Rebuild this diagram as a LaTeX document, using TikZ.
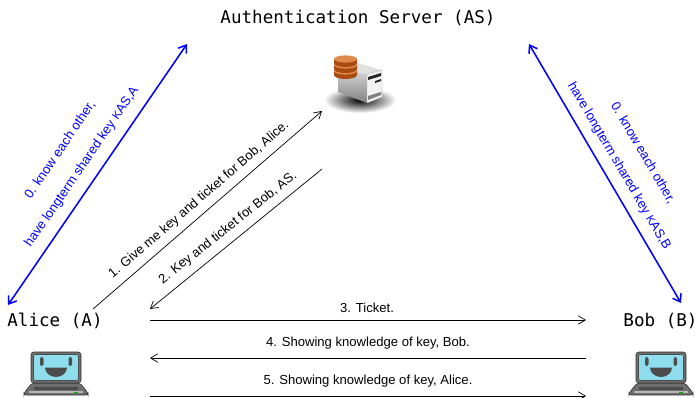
\documentclass[tikz,border=0pt]{standalone}
\usepackage{fontspec}
\setmainfont{Liberation Sans}
\setmonofont{DejaVu Sans Mono}
\usetikzlibrary{arrows.meta}
\definecolor{screenblue}{HTML}{8EDDEC}
\definecolor{laptopgrey}{HTML}{6E6E6E}
\definecolor{diskdark}{HTML}{A84A12}
\definecolor{disklight}{HTML}{E08A4A}
\tikzset{
  party/.style={font=\fontsize{12.5}{14}\selectfont\ttfamily},
  msg/.style={font=\fontsize{9.3}{11}\selectfont,inner sep=0pt},
  keylabel/.style={font=\fontsize{9.3}{11}\selectfont,text=blue,inner sep=0pt},
  msgline/.style={-{Straight Barb[length=5pt,width=6pt]},line width=0.5pt},
  keyline/.style={{Straight Barb[length=5pt,width=7pt]}-{Straight Barb[length=5pt,width=7pt]},blue,line width=1.1pt},
  laptop/.pic={
    \fill[laptopgrey,draw=black!80,line width=0.4pt,rounded corners=1.5] (-32,31) -- (-24,21) -- (24,21) -- (32,31) -- (32,33) -- (-32,33) -- cycle;
    \fill[black!70] (-22,25) rectangle (22,28);
    \fill[laptopgrey!50] (-27,28.5) rectangle (27,31);
    \fill[green!70!black] (18,30) rectangle (22,31);
    \fill[laptopgrey,draw=black!80,line width=0.4pt,rounded corners=2] (-25,-10) rectangle (25,21);
    \fill[screenblue,draw=black!70,line width=0.4pt,rounded corners=1.5] (-22.5,-7.5) rectangle (22.5,18.5);
    \fill[black!70,rounded corners=1.5] (-16,-5) rectangle (-12.5,4);
    \fill[black!70,rounded corners=1.5] (12.5,-5) rectangle (16,4);
    \fill[black!70] (-11,5.5) -- (11,5.5) arc[start angle=0,end angle=180,x radius=11,y radius=9.5] -- cycle;
  }
}
\begin{document}
\begin{tikzpicture}[x=0.025cm,y=-0.025cm]
\useasboundingbox (0,0) rectangle (697,397);

\node[party] (as) at (358,17.5) {Authentication Server (AS)};
\node[party] (alice) at (55,320.5) {Alice (A)};
\node[party] (bob) at (660.5,320.5) {Bob (B)};

\shade[inner color=black,outer color=white] (360,100) ellipse (36 and 13);
\shade[top color=black!8,bottom color=black!50] (338,75) -- (357,63) -- (381,70) -- (367,73) -- (367,103) -- (338,92) -- cycle;
\fill[black!12] (357,63) -- (381,70) -- (367,74) -- (345,70) -- cycle;
\fill[black!5,draw=black!35,line width=0.2pt] (367,74) -- (382,70) -- (382,97) -- (367,103) -- cycle;
\fill[black!85] (368,77) -- (381,73) -- (381,76) -- (368,80) -- cycle;
\fill[black!85] (375,81) -- (381,79) -- (381,81) -- (375,83) -- cycle;
\fill[black!50] (368,96) -- (381,92) -- (381,95) -- (368,100) -- cycle;
\foreach \y in {72,66,60} {
  \fill[diskdark] (334,\y-1) -- (334,\y+3) arc[start angle=180,end angle=0,x radius=11.5,y radius=4] -- (357,\y-1) -- cycle;
  \fill[disklight] (345.5,\y-1) ellipse (11.5 and 3.6);
}

\pic at (56,362) {laptop};
\pic at (661,362) {laptop};

\coordinate (a1) at (93,309);
\coordinate (s1) at (322,111);
\coordinate (s2) at (322,169);
\coordinate (a2) at (150,309);
\coordinate (a3) at (150,320);
\coordinate (b3) at (586,320);
\coordinate (b4) at (586,358);
\coordinate (a4) at (150,358);
\coordinate (a5) at (150,396);
\coordinate (b5) at (586,396);
\coordinate (ka) at (8,305);
\coordinate (ks) at (187,44);
\coordinate (kt) at (529,44);
\coordinate (kb) at (681,303);

\draw[msgline] (a1) -- (s1);
\draw[msgline] (s2) -- (a2);
\draw[msgline] (a3) -- (b3);
\draw[msgline] (b4) -- (a4);
\draw[msgline] (a5) -- (b5);
\draw[keyline] (ka) -- (ks);
\draw[keyline] (kt) -- (kb);

\node[msg,rotate=40.8] (m1) at (199,200) {1. Give me key and ticket for Bob, Alice.};
\node[msg,rotate=38.5] (m2) at (228,228) {2. Key and ticket for Bob, AS.};
\node[msg] (m3) at (367,307.5) {3. Ticket.};
\node[msg] (m4) at (368,343.5) {4. Showing knowledge of key, Bob.};
\node[msg] (m5) at (368,381.5) {5. Showing knowledge of key, Alice.};

\node[keylabel,rotate=55.6] (k1) at (60,150) {0. know each other,};
\node[keylabel,rotate=55.6] (k2) at (82,167) {have longterm shared key {\fontsize{8}{10}\selectfont K}AS,A};
\node[keylabel,rotate=-59.6] (k3) at (643,153) {0. know each other,};
\node[keylabel,rotate=-59.6] (k4) at (619,166) {have longterm shared key {\fontsize{8}{10}\selectfont K}AS,B};
\end{tikzpicture}
\end{document}
